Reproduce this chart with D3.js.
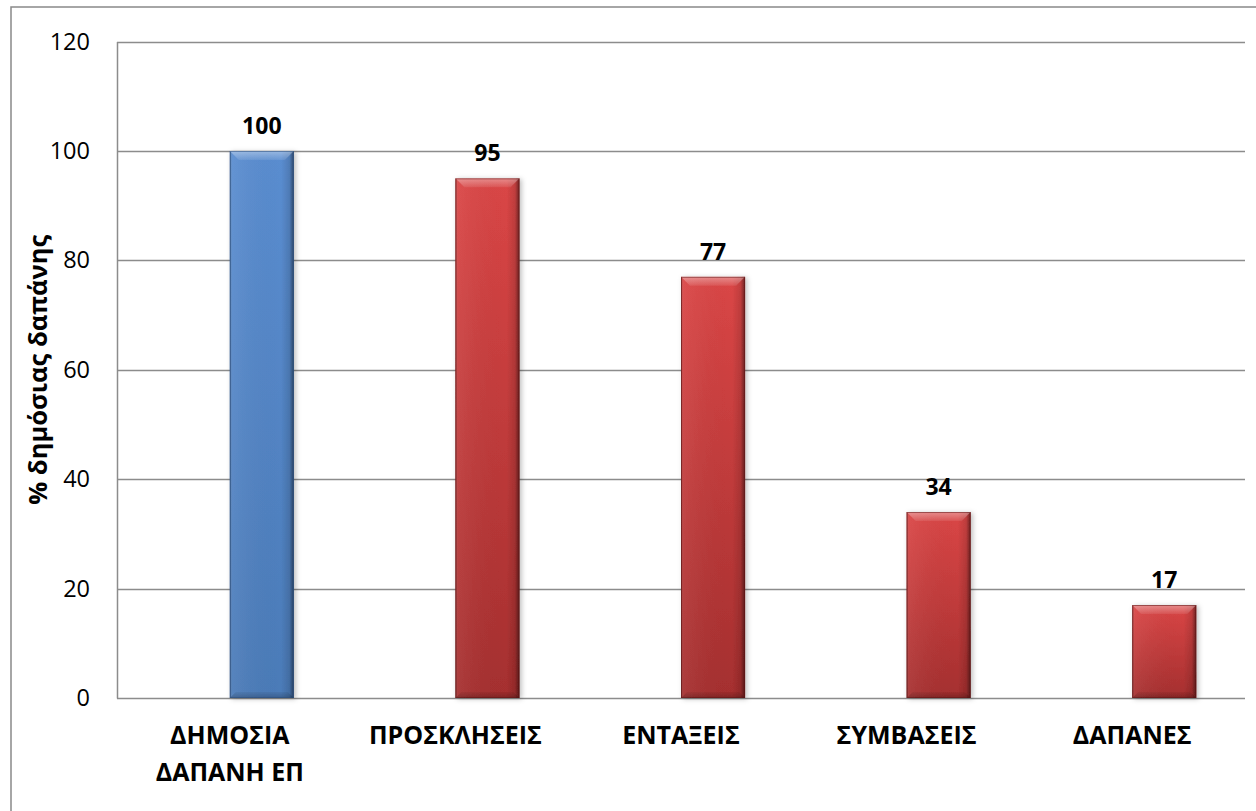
<!DOCTYPE html>
<html>
<head>
<meta charset="utf-8">
<script src="https://cdn.jsdelivr.net/npm/d3@7/dist/d3.min.js"></script>
<style>
  html, body { margin: 0; padding: 0; background: #fff; }
  svg { display: block; }
  text { font-family: "Open Sans", "Noto Sans", sans-serif; fill: #000; }
</style>
</head>
<body>
<svg id="chart" width="1256" height="811"></svg>
<script>
// ---- data ----
const categories = ["ΔΗΜΟΣΙΑ\nΔΑΠΑΝΗ ΕΠ", "ΠΡΟΣΚΛΗΣΕΙΣ", "ΕΝΤΑΞΕΙΣ", "ΣΥΜΒΑΣΕΙΣ", "ΔΑΠΑΝΕΣ"];
const values = [100, 95, 77, 34, 17];
const groups = ["total", "stage", "stage", "stage", "stage"];
const yTicks = [0, 20, 40, 60, 80, 100, 120];
const yTitle = "% δημόσιας δαπάνης";

// ---- layout ----
const W = 1256, H = 811;
const plot = { left: 117, right: 1245, top: 41.6, bottom: 698 };

const svg = d3.select("#chart");
const defs = svg.append("defs");

const palette = {
  total: { top: "#5a8dd0", bottom: "#4b7bb8", edge: "#2b4e7c" },
  stage: { top: "#da4646", bottom: "#a52f2f", edge: "#5e1616" }
};

Object.entries(palette).forEach(([k, c]) => {
  const g = defs.append("linearGradient").attr("id", "body-" + k)
    .attr("x1", 0).attr("y1", 0).attr("x2", 0).attr("y2", 1);
  g.append("stop").attr("offset", "0%").attr("stop-color", c.top);
  g.append("stop").attr("offset", "100%").attr("stop-color", c.bottom);
});
const hg = defs.append("linearGradient").attr("id", "sideShade")
  .attr("x1", 0).attr("y1", 0).attr("x2", 1).attr("y2", 0);
[["0%", "#000", 0.30], ["4%", "#fff", 0.06], ["80%", "#000", 0.0], ["93%", "#000", 0.12], ["100%", "#000", 0.5]]
  .forEach(([o, c, a]) => hg.append("stop").attr("offset", o).attr("stop-color", c).attr("stop-opacity", a));
const tg = defs.append("linearGradient").attr("id", "topBevel")
  .attr("x1", 0).attr("y1", 0).attr("x2", 0).attr("y2", 1);
tg.append("stop").attr("offset", "0%").attr("stop-color", "#fff").attr("stop-opacity", 0.38);
tg.append("stop").attr("offset", "100%").attr("stop-color", "#fff").attr("stop-opacity", 0.08);
const bg = defs.append("linearGradient").attr("id", "botBevel")
  .attr("x1", 0).attr("y1", 0).attr("x2", 0).attr("y2", 1);
bg.append("stop").attr("offset", "0%").attr("stop-color", "#000").attr("stop-opacity", 0.05);
bg.append("stop").attr("offset", "100%").attr("stop-color", "#000").attr("stop-opacity", 0.22);

const f = defs.append("filter").attr("id", "shadow").attr("x", "-20%").attr("y", "-10%").attr("width", "150%").attr("height", "130%");
f.append("feDropShadow").attr("dx", 2).attr("dy", 1).attr("stdDeviation", 2.5)
  .attr("flood-color", "#000").attr("flood-opacity", 0.25);

// outer border
svg.append("rect").attr("x", 11).attr("y", 7).attr("width", W + 20).attr("height", H + 20)
  .attr("fill", "none").attr("stroke", "#898989").attr("stroke-width", 1.5);

const x = d3.scaleBand().domain(categories).range([plot.left, plot.right]).padding(0);
const y = d3.scaleLinear().domain([0, 120]).range([plot.bottom, plot.top]);

// gridlines
svg.append("g").selectAll("line").data(yTicks).join("line")
  .attr("x1", plot.left).attr("x2", plot.right)
  .attr("y1", d => Math.round(y(d)) + 0.5).attr("y2", d => Math.round(y(d)) + 0.5)
  .attr("stroke", "#8c8c8c").attr("stroke-width", 1.5);

// y axis
const yAxis = svg.append("g").attr("transform", `translate(${plot.left},0)`)
  .call(d3.axisLeft(y).tickValues(yTicks).tickSize(0).tickPadding(27).tickFormat(d3.format("d")));
yAxis.select(".domain").attr("stroke", "#8c8c8c").attr("stroke-width", 1.5);
yAxis.selectAll("text").attr("font-size", 23.5).attr("font-family", "'Open Sans', sans-serif").attr("fill", "#000");

// bars
const bw = x.bandwidth() * 0.284;
const bev = 9;
const bars = svg.append("g").selectAll("g").data(categories).join("g")
  .attr("filter", "url(#shadow)");
bars.each(function(c, i) {
  const g = d3.select(this);
  const x0 = x(c) + x.bandwidth() / 2;
  const x1 = x0 + bw;
  const y0 = y(values[i]);
  const y1 = y(0);
  const pal = palette[groups[i]];
  g.append("rect").attr("x", x0).attr("y", y0).attr("width", bw).attr("height", y1 - y0)
    .attr("fill", `url(#body-${groups[i]})`);
  g.append("rect").attr("x", x0).attr("y", y0).attr("width", bw).attr("height", y1 - y0)
    .attr("fill", "url(#sideShade)");
  g.append("polygon")
    .attr("points", [[x0, y0], [x1, y0], [x1 - bev, y0 + bev], [x0 + bev, y0 + bev]].join(" "))
    .attr("fill", "url(#topBevel)");
  g.append("polygon")
    .attr("points", [[x0, y1], [x1, y1], [x1 - 6, y1 - 6], [x0 + 6, y1 - 6]].join(" "))
    .attr("fill", "url(#botBevel)");
  g.append("rect").attr("x", x0 + 0.5).attr("y", y0 + 0.5).attr("width", bw - 1).attr("height", y1 - y0 - 1)
    .attr("fill", "none").attr("stroke", pal.edge).attr("stroke-opacity", 0.55).attr("stroke-width", 1);
});

// value labels
svg.append("g").selectAll("text").data(categories).join("text")
  .attr("x", c => x(c) + x.bandwidth() / 2 + bw / 2)
  .attr("y", (c, i) => y(values[i]) - 17)
  .attr("text-anchor", "middle")
  .attr("font-size", 23).attr("font-weight", "bold")
  .text((c, i) => values[i]);

// category labels
const cl = svg.append("g").selectAll("text").data(categories).join("text")
  .attr("x", c => x(c) + x.bandwidth() / 2)
  .attr("y", 744)
  .attr("text-anchor", "middle")
  .attr("font-size", 25).attr("font-weight", "bold");
cl.each(function(c) {
  const t = d3.select(this);
  c.split("\n").forEach((line, k) => {
    t.append("tspan").attr("x", t.attr("x")).attr("dy", k === 0 ? 0 : 37).text(line);
  });
});

// y title
svg.append("text")
  .attr("transform", `translate(47,${(plot.top + plot.bottom) / 2}) rotate(-90)`)
  .attr("text-anchor", "middle")
  .attr("font-size", 25.5).attr("font-weight", "bold")
  .text(yTitle);
</script>
</body>
</html>
